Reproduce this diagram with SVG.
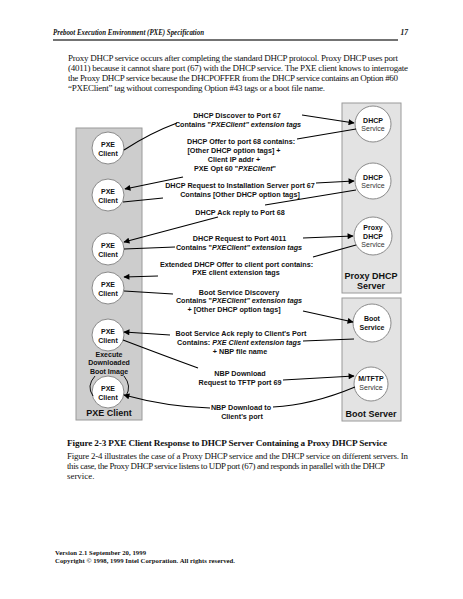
<svg xmlns="http://www.w3.org/2000/svg" width="463" height="599" viewBox="0 0 463 599">
<defs>
<marker id="ah" viewBox="0 0 10 10" refX="9" refY="5" markerWidth="7.5" markerHeight="6" markerUnits="userSpaceOnUse" orient="auto">
<path d="M0,0 L10,5 L0,10 z" fill="#000"/>
</marker>
<style>
.serif{font-family:"Liberation Serif","Times New Roman",serif;fill:#111}
.lbl{font-family:"Liberation Sans",Arial,sans-serif;font-weight:bold;font-size:7.2px;fill:#111;text-anchor:middle}
.nd{font-family:"Liberation Sans",Arial,sans-serif;font-weight:bold;font-size:7px;fill:#111;text-anchor:middle}
.sv{font-family:"Liberation Sans",Arial,sans-serif;font-size:7px;fill:#333;text-anchor:middle}
.pl{font-family:"Liberation Sans",Arial,sans-serif;font-weight:bold;font-size:9px;fill:#111;text-anchor:middle}
.it{font-style:italic}
.panelL{fill:#cdcdcd;stroke:#9a9a9a;stroke-width:1}
.panelR{fill:#e3e3e3;stroke:#9a9a9a;stroke-width:1}
.circ{fill:#fff;stroke:#8a8a8a;stroke-width:1}
.cn{fill:none;stroke:#000;stroke-width:1.1}
</style>
</defs>
<rect width="463" height="599" fill="#fff"/>

<!-- header -->
<text class="serif" x="53" y="35" font-size="7.6" font-weight="bold" font-style="italic" textLength="151" lengthAdjust="spacingAndGlyphs">Preboot Execution Environment (PXE) Specification</text>
<text class="serif" x="408" y="35" font-size="7.6" font-weight="bold" font-style="italic" text-anchor="end">17</text>
<line x1="53" y1="40" x2="398" y2="40" stroke="#444" stroke-width="1.4"/>

<!-- intro paragraph -->
<g class="serif" font-size="9">
<text x="68" y="61" textLength="330" lengthAdjust="spacing">Proxy DHCP service occurs after completing the standard DHCP protocol. Proxy DHCP uses port</text>
<text x="68" y="71" textLength="340" lengthAdjust="spacing">(4011) because it cannot share port (67) with the DHCP service. The PXE client knows to interrogate</text>
<text x="68" y="81" textLength="330" lengthAdjust="spacing">the Proxy DHCP service because the DHCPOFFER from the DHCP service contains an Option #60</text>
<text x="68" y="91" textLength="257" lengthAdjust="spacing">“PXEClient” tag without corresponding Option #43 tags or a boot file name.</text>
</g>

<!-- panels -->
<g id="panel-pxe-client">
<rect class="panelL" x="76" y="128" width="66" height="292"/>
<text class="pl" x="109" y="416">PXE Client</text>
</g>
<g id="panel-proxy-dhcp-server">
<rect class="panelR" x="342" y="103" width="59" height="190"/>
<text class="pl" x="371" y="279">Proxy DHCP</text>
<text class="pl" x="371" y="289">Server</text>
</g>
<g id="panel-boot-server">
<rect class="panelR" x="342" y="298" width="59" height="123"/>
<text class="pl" x="371" y="417">Boot Server</text>
</g>

<!-- client nodes -->
<g id="client1"><circle class="circ" cx="108" cy="148" r="16"/><text class="nd" x="108" y="146.5">PXE</text><text class="nd" x="108" y="155.5">Client</text></g>
<g id="client2"><circle class="circ" cx="108" cy="195" r="16"/><text class="nd" x="108" y="193.5">PXE</text><text class="nd" x="108" y="202.5">Client</text></g>
<g id="client3"><circle class="circ" cx="108" cy="249" r="16"/><text class="nd" x="108" y="247.5">PXE</text><text class="nd" x="108" y="256.5">Client</text></g>
<g id="client4"><circle class="circ" cx="108" cy="288" r="16"/><text class="nd" x="108" y="286.5">PXE</text><text class="nd" x="108" y="295.5">Client</text></g>
<g id="client5"><circle class="circ" cx="108" cy="335" r="16"/><text class="nd" x="108" y="333.5">PXE</text><text class="nd" x="108" y="342.5">Client</text></g>
<g id="exec-label">
<text class="nd" x="109" y="357">Execute</text>
<text class="nd" x="109" y="365">Downloaded</text>
<text class="nd" x="109" y="373.5">Boot Image</text>
</g>
<g id="client6"><circle class="circ" cx="108" cy="392" r="16"/><text class="nd" x="108" y="390.5">PXE</text><text class="nd" x="108" y="399.5">Client</text></g>

<!-- server nodes -->
<g id="dhcp1"><circle class="circ" cx="373" cy="124" r="18"/><text class="nd" x="373" y="122.5">DHCP</text><text class="sv" x="373" y="131">Service</text></g>
<g id="dhcp2"><circle class="circ" cx="373" cy="181" r="18"/><text class="nd" x="373" y="179.5">DHCP</text><text class="sv" x="373" y="188">Service</text></g>
<g id="proxy"><circle class="circ" cx="373" cy="236" r="19"/><text class="nd" x="373" y="230">Proxy</text><text class="nd" x="373" y="238.5">DHCP</text><text class="sv" x="373" y="247">Service</text></g>
<g id="boot"><circle class="circ" cx="372" cy="323" r="19"/><text class="nd" x="372" y="320.5">Boot</text><text class="nd" x="372" y="329.5">Service</text></g>
<g id="tftp"><circle class="circ" cx="371" cy="384" r="17"/><text class="nd" x="371" y="381">M/TFTP</text><text class="sv" x="371" y="390">Service</text></g>

<!-- connectors -->
<g id="connectors" class="cn">
<path d="M124,150 Q150,133 177,123"/>
<path d="M302,115 L354,123" marker-end="url(#ah)"/>
<path d="M356,129 L297,139"/>
<path d="M183,177 L125,189" marker-end="url(#ah)"/>
<path d="M123,202 L163,198"/>
<path d="M316,183 L354,181" marker-end="url(#ah)"/>
<path d="M356,190 L265,205"/>
<path d="M218,217 L124,242" marker-end="url(#ah)"/>
<path d="M124,249 L175,247"/>
<path d="M303,238 L353,236" marker-end="url(#ah)"/>
<path d="M356,245 L313,257"/>
<path d="M158,276 L124,277" marker-end="url(#ah)"/>
<path d="M124,291 L173,294"/>
<path d="M303,311 L353,322" marker-end="url(#ah)"/>
<path d="M354,339 L303,341"/>
<path d="M170,335 L124,332" marker-end="url(#ah)"/>
<path d="M123,340 Q165,356 198,368"/>
<path d="M283,380 L354,376" marker-end="url(#ah)"/>
<path d="M355,387 Q312,405 273,407"/>
<path d="M210,408 Q168,407 124,395" marker-end="url(#ah)"/>
<path d="M95,376 Q86,386 93,396" stroke-width="0.9"/>
<path d="M124,376 Q132,386 126,396" stroke-width="0.9"/>
</g>

<!-- connector labels -->
<g id="labels">
<text class="lbl" x="237" y="117.6">DHCP Discover to Port 67</text>
<text class="lbl" x="238" y="127.1">Contains "<tspan class="it">PXEClient" extension tags</tspan></text>
<text class="lbl" x="241" y="144.1">DHCP Offer to port 68 contains:</text>
<text class="lbl" x="234" y="153.1">[Other DHCP option tags] +</text>
<text class="lbl" x="234" y="162.1">Client IP addr +</text>
<text class="lbl" x="235" y="171.1">PXE Opt 60 "<tspan class="it">PXEClient</tspan>"</text>
<text class="lbl" x="240" y="187.6">DHCP Request to Installation Server port 67</text>
<text class="lbl" x="240" y="196.6">Contains [Other DHCP option tags]</text>
<text class="lbl" x="240" y="214.6">DHCP Ack reply to Port 68</text>
<text class="lbl" x="239.5" y="240.6">DHCP Request to Port 4011</text>
<text class="lbl" x="239" y="249.6">Contains "<tspan class="it">PXEClient" extension tags</tspan></text>
<text class="lbl" x="236.5" y="266.6">Extended DHCP Offer to client port contains:</text>
<text class="lbl" x="236" y="275.1">PXE client extension tags</text>
<text class="lbl" x="239" y="294.6">Boot Service Discovery</text>
<text class="lbl" x="239" y="303.1">Contains "<tspan class="it">PXEClient" extension tags</tspan></text>
<text class="lbl" x="234" y="312.1">+ [Other DHCP option tags]</text>
<text class="lbl" x="241" y="335.6">Boot Service Ack reply to Client's Port</text>
<text class="lbl" x="239" y="344.6">Contains: <tspan class="it">PXE Client extension tags</tspan></text>
<text class="lbl" x="240" y="353.6">+ NBP file name</text>
<text class="lbl" x="240" y="375.6">NBP Download</text>
<text class="lbl" x="240" y="384.6">Request to TFTP port 69</text>
<text class="lbl" x="241" y="410.1">NBP Download to</text>
<text class="lbl" x="242" y="418.6">Client's port</text>
</g>

<!-- caption -->
<text class="serif" x="67" y="445.5" font-size="9.2" font-weight="bold" textLength="320" lengthAdjust="spacing">Figure 2-3  PXE Client Response to DHCP Server Containing a Proxy DHCP Service</text>
<g class="serif" font-size="8.9">
<text x="67" y="459" textLength="341" lengthAdjust="spacing">Figure 2-4 illustrates the case of a Proxy DHCP service and the DHCP service on different servers. In</text>
<text x="67" y="469" textLength="318" lengthAdjust="spacing">this case, the Proxy DHCP service listens to UDP port (67) and responds in parallel with the DHCP</text>
<text x="67" y="479">service.</text>
</g>

<!-- footer -->
<g class="serif" font-size="6.7" font-weight="bold">
<text x="55" y="554.5" textLength="91" lengthAdjust="spacing">Version 2.1 September 20, 1999</text>
<text x="55" y="562.5" textLength="180" lengthAdjust="spacing">Copyright © 1998, 1999 Intel Corporation. All rights reserved.</text>
</g>
</svg>
